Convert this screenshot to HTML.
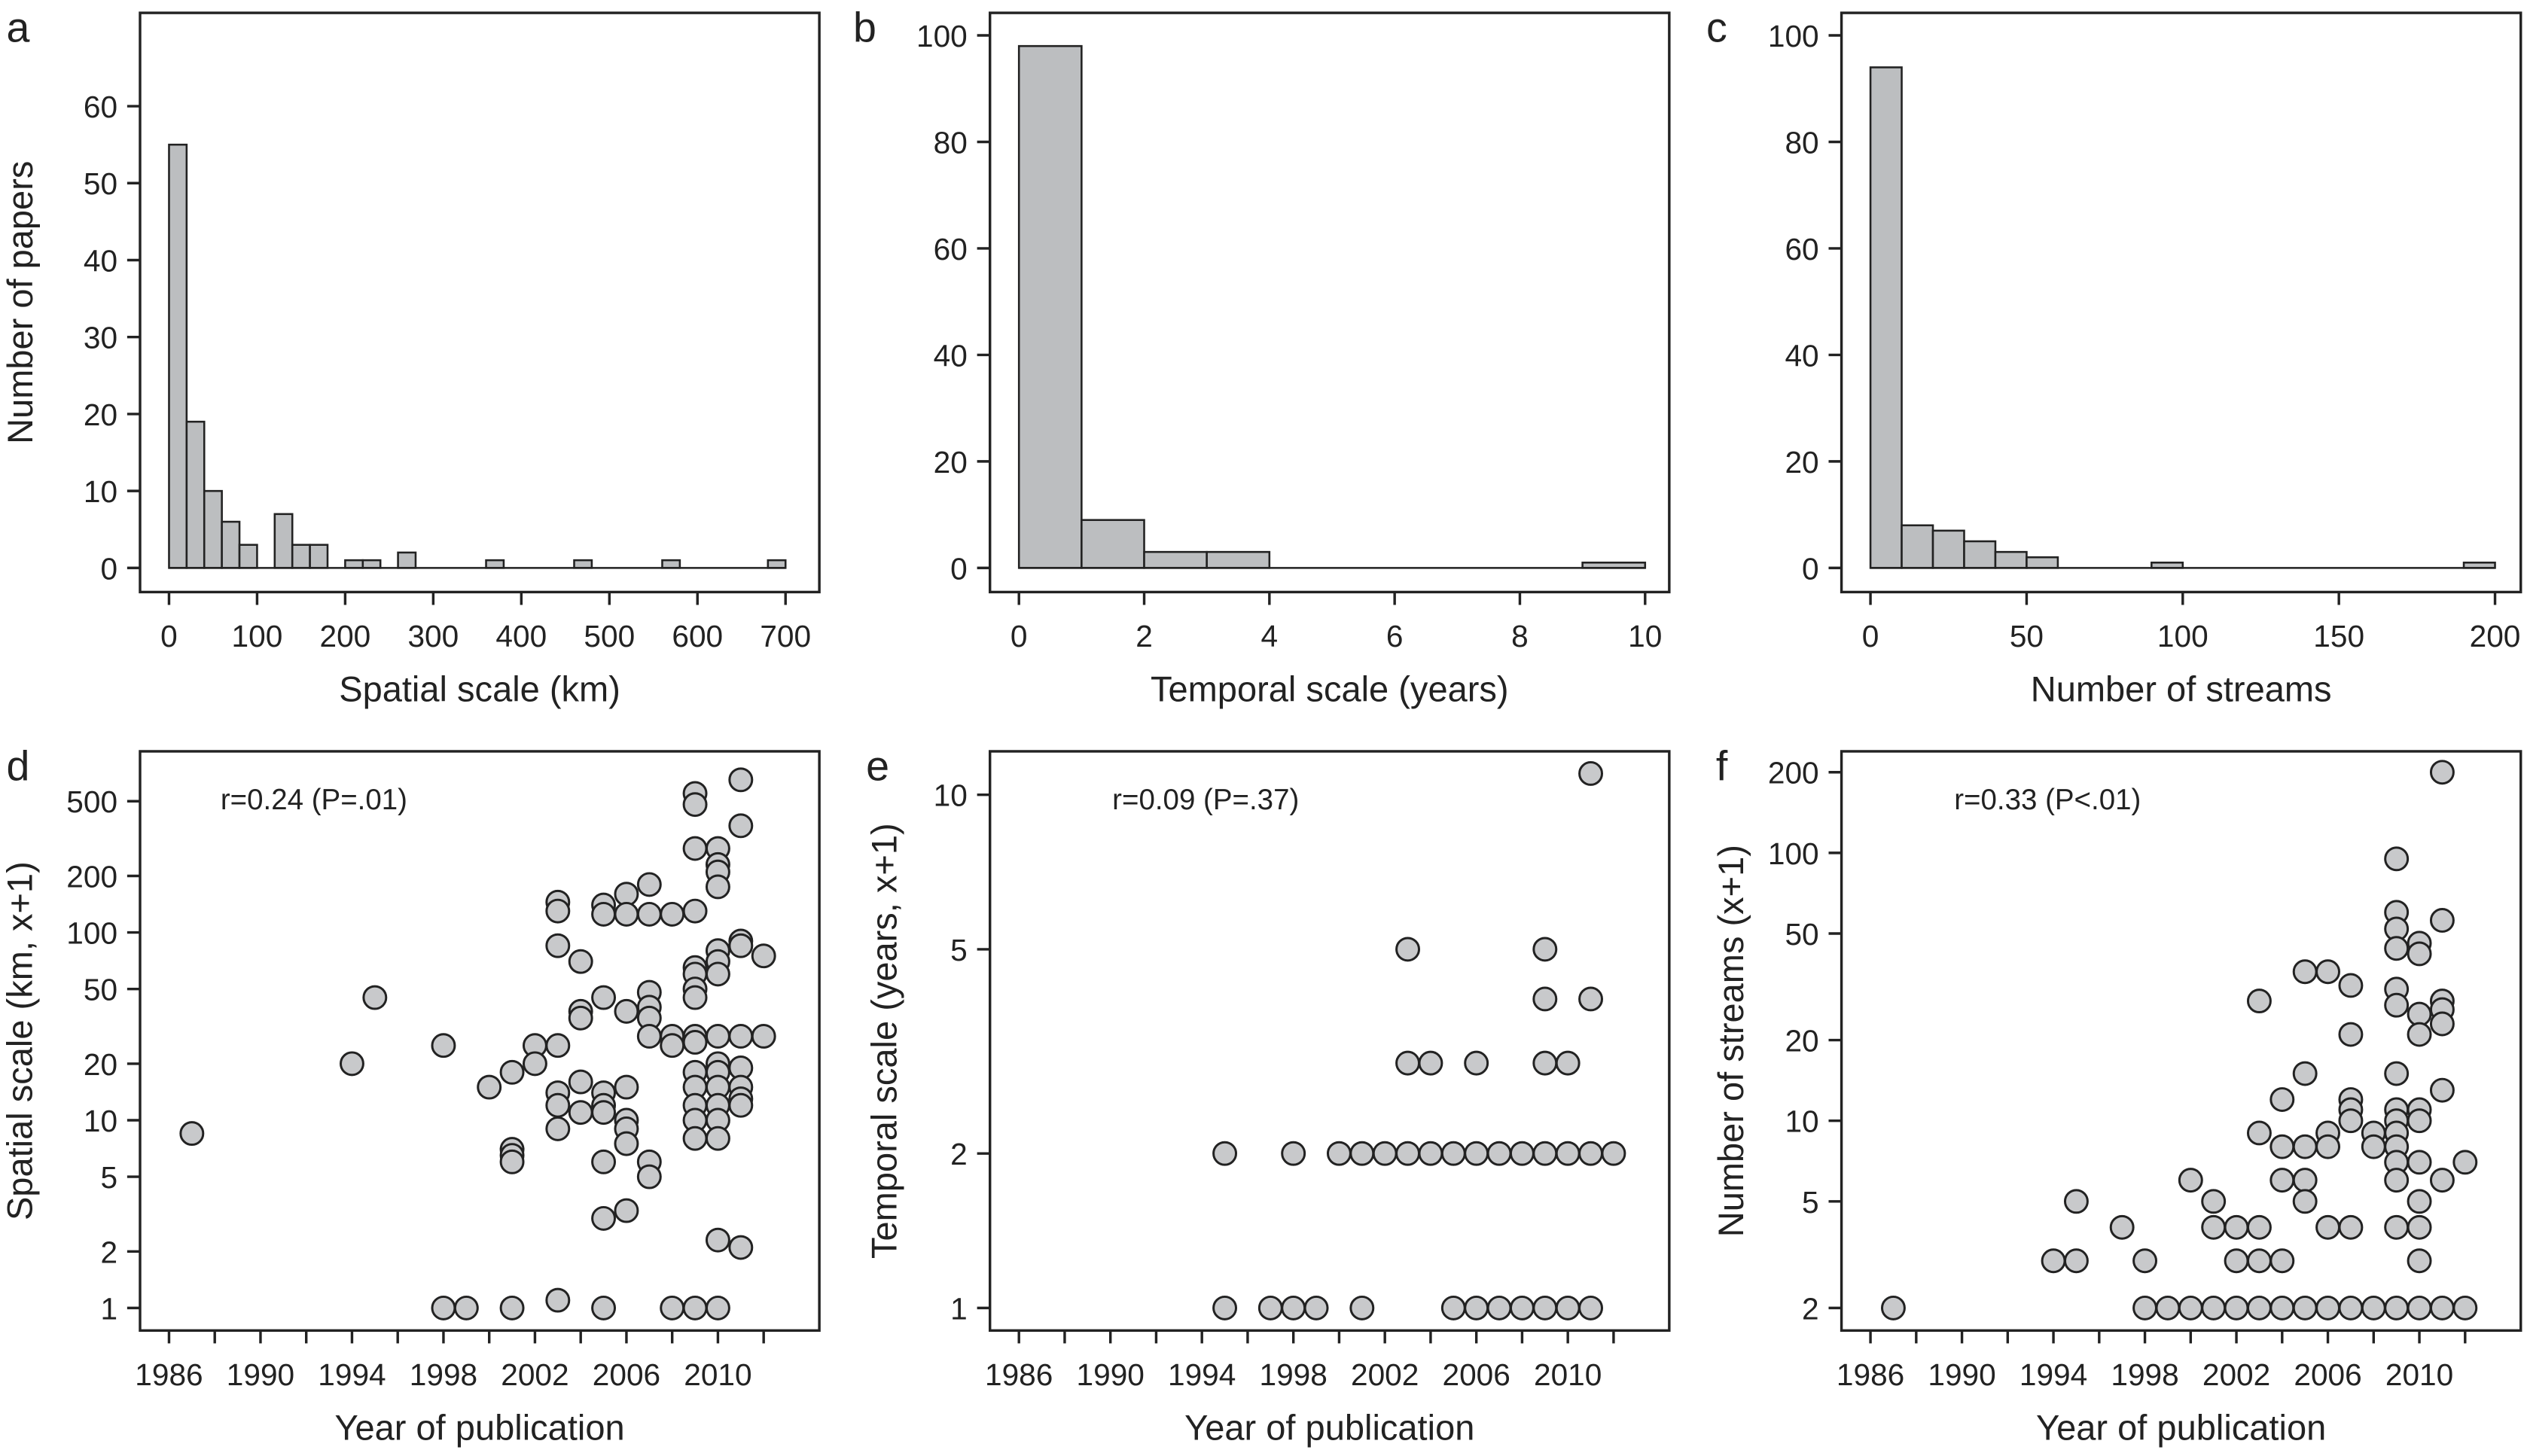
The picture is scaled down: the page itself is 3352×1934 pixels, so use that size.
<!DOCTYPE html>
<html><head><meta charset="utf-8"><style>
html,body{margin:0;padding:0;background:#fff;}
svg{display:block;font-family:"Liberation Sans",sans-serif;}
</style></head><body>
<svg id="fig" width="3352" height="1934" viewBox="0 0 1568 905" preserveAspectRatio="none" xmlns="http://www.w3.org/2000/svg"></svg>
<script>
// ---- data ----
const spatialBinStarts = [0,20,40,60,80,120,140,160,200,220,260,360,460,560,680];
const spatialCounts    = [55,19,10,6,3,7,3,3,1,1,2,1,1,1,1];
const spatialBinWidth = 20;
const temporalBinStarts = [0,1,2,3,9];
const temporalCounts    = [98,9,3,3,1];
const temporalBinWidth = 1;
const streamsBinStarts = [0,10,20,30,40,50,90,190];
const streamsCounts    = [94,8,7,5,3,2,1,1];
const streamsBinWidth = 10;

const dYears = [1987,1994,1995,1998,1998,1999,2000,2001,2001,2001,2001,2001,2002,2002,
 2003,2003,2003,2003,2003,2003,2003,2003,2004,2004,2004,2004,2004,
 2005,2005,2005,2005,2005,2005,2005,2005,2005,2006,2006,2006,2006,2006,2006,2006,2006,
 2007,2007,2007,2007,2007,2007,2007,2007,2008,2008,2008,2008,
 2009,2009,2009,2009,2009,2009,2009,2009,2009,2009,2009,2009,2009,2009,2009,2009,
 2010,2010,2010,2010,2010,2010,2010,2010,2010,2010,2010,2010,2010,2010,2010,2010,
 2011,2011,2011,2011,2011,2011,2011,2011,2011,2011,2012,2012];
const dValues = [8.5,20,45,25,1,1,15,18,7,6.5,6,1,25,20,
 145,130,85,25,14,12,9,1.1,70,38,35,16,11,
 140,125,45,14,12,11,6,3,1,160,125,38,15,10,9,7.5,3.3,
 180,125,48,40,35,28,6,5,125,28,25,1,
 550,480,280,130,65,60,50,45,28,26,18,15,12,10,8,1,
 280,230,210,175,80,70,60,28,20,18,15,12,10,8,2.3,1,
 650,370,90,85,28,19,15,13,12,2.1,75,28];

const eYears = [1995,1995,1997,1998,1998,1999,2000,2001,2001,2002,2003,2003,2003,2004,2004,2005,2005,
 2006,2006,2006,2007,2007,2008,2008,2009,2009,2009,2009,2009,2010,2010,2010,2011,2011,2011,2011,2012];
const eValues = [2,1,1,2,1,1,2,2,1,2,5,3,2,3,2,2,1,3,2,1,2,1,2,1,5,4,3,2,1,3,2,1,11,4,2,1,2];

const fYears = [1987,1994,1995,1995,1997,1998,1998,1999,2000,2000,2001,2001,2001,2002,2002,2002,
 2003,2003,2003,2003,2003,2004,2004,2004,2004,2004,2005,2005,2005,2005,2005,2005,
 2006,2006,2006,2006,2006,2007,2007,2007,2007,2007,2007,2007,2008,2008,2008,
 2009,2009,2009,2009,2009,2009,2009,2009,2009,2009,2009,2009,2009,2009,2009,
 2010,2010,2010,2010,2010,2010,2010,2010,2010,2010,2010,
 2011,2011,2011,2011,2011,2011,2011,2011,2012,2012];
const fValues = [2,3,5,3,4,3,2,2,6,2,5,4,2,4,3,2,
 28,9,4,3,2,12,8,6,3,2,36,15,8,6,5,2,
 36,9,8,4,2,32,21,12,11,10,4,2,9,8,2,
 95,60,52,44,31,27,15,11,10,9,8,7,6,4,2,
 46,42,25,21,11,10,7,5,4,3,2,
 200,56,28,26,23,13,6,2,7,2];

const yearTicks = [1986,1988,1990,1992,1994,1996,1998,2000,2002,2004,2006,2008,2010,2012];
const yearLabels = [1986,1990,1994,1998,2002,2006,2010];
const aXTicks=[0,100,200,300,400,500,600,700], aYTicks=[0,10,20,30,40,50,60];
const bXTicks=[0,2,4,6,8,10], bYTicks=[0,20,40,60,80,100];
const cXTicks=[0,50,100,150,200], cYTicks=[0,20,40,60,80,100];
const dYTicks=[1,2,5,10,20,50,100,200,500];
const eYTicks=[1,2,5,10];
const fYTicks=[2,5,10,20,50,100,200];

// ---- drawing ----
const svg=document.getElementById('fig');
const NS='http://www.w3.org/2000/svg';
function el(tag,attrs,parent){const e=document.createElementNS(NS,tag);for(const k in attrs)e.setAttribute(k,attrs[k]);(parent||svg).appendChild(e);return e;}
function txt(s,x,y,size,anchor,parent,rot){const t=el('text',{x:x,y:y,'font-size':size,'text-anchor':anchor||'middle',fill:'#222'},parent);if(rot)t.setAttribute('transform','rotate(-90 '+x+' '+y+')');t.textContent=s;return t;}

function panel(o){
  const g=el('g',{});
  
  
  const box=el('rect',{x:o.bx0,y:o.by0,width:o.bx1-o.bx0,height:o.by1-o.by0,fill:'none',stroke:'#222','stroke-width':1.6},g);
  
  
  o.xTicks.forEach(v=>{const x=o.sx(v);el('line',{x1:x,x2:x,y1:o.by1,y2:o.by1+8,stroke:'#222','stroke-width':1.6},g);});
  o.xLabels.forEach(v=>{const t=txt(String(v),o.sx(v),o.by1+34,19,'middle',g);});
  o.yTicks.forEach(v=>{const y=o.sy(v);el('line',{x1:o.bx0-8,x2:o.bx0,y1:y,y2:y,stroke:'#222','stroke-width':1.6},g);
    const t=txt(String(v),o.bx0-14,y+7,19,'end',g);});
  const xt=txt(o.xTitle,(o.bx0+o.bx1)/2,o.by1+68,22,'middle',g);
  
  const yt=txt(o.yTitle,o.ytx,(o.by0+o.by1)/2,22,'middle',g,true);
  
  const lt=txt(o.letter,o.lx,o.by0+18,26,'start',g);
  
  return g;
}
function lin(d0,d1,p0,p1){return v=>p0+(v-d0)*(p1-p0)/(d1-d0);}
function logs(d0,d1,p0,p1){return v=>p0+(Math.log10(v)-Math.log10(d0))*(p1-p0)/(Math.log10(d1)-Math.log10(d0));}

function hist(o,starts,counts,w){
  const g=panel(o);
  starts.forEach((s,i)=>{const x0=o.sx(s),x1=o.sx(s+w),y=o.sy(counts[i]);
    const r=el('rect',{x:x0,y:y,width:x1-x0,height:o.sy(0)-y,fill:'#bcbec0',stroke:'#222','stroke-width':1.2},g);
    });
  el('line',{x1:o.sx(starts[0]),x2:o.sx(starts[starts.length-1]+w),y1:o.sy(0),y2:o.sy(0),stroke:'#222','stroke-width':1.2},g);
}
function scatter(o,xs,ys,note,nx){
  const g=panel(o);
  xs.forEach((x,i)=>{const c=el('circle',{cx:o.sx(x),cy:o.sy(ys[i]),r:7,fill:'#c8c9cb',stroke:'#222','stroke-width':1.4},g);
    });
  const t=txt(note,nx,o.by0+36,18,'start',g);
  
}

const TOP={by0:8,by1:368}, BOT={by0:467,by1:827};
hist(Object.assign({name:'panel-a-spatial-histogram',bx0:87,bx1:509,sx:lin(0,700,105,488),sy:lin(0,60,353,66),
  xTicks:aXTicks,xLabels:aXTicks,yTicks:aYTicks,xTitle:'Spatial scale (km)',yTitle:'Number of papers',ytx:20,letter:'a',lx:4},TOP),spatialBinStarts,spatialCounts,spatialBinWidth);
hist(Object.assign({name:'panel-b-temporal-histogram',bx0:615,bx1:1037,sx:lin(0,10,633,1022),sy:lin(0,100,353,22),
  xTicks:bXTicks,xLabels:bXTicks,yTicks:bYTicks,xTitle:'Temporal scale (years)',yTitle:'',ytx:550,letter:'b',lx:530},TOP),temporalBinStarts,temporalCounts,temporalBinWidth);
hist(Object.assign({name:'panel-c-streams-histogram',bx0:1144,bx1:1566,sx:lin(0,200,1162,1550),sy:lin(0,100,353,22),
  xTicks:cXTicks,xLabels:cXTicks,yTicks:cYTicks,xTitle:'Number of streams',yTitle:'',ytx:1077,letter:'c',lx:1060},TOP),streamsBinStarts,streamsCounts,streamsBinWidth);

scatter(Object.assign({name:'panel-d-spatial-vs-year',bx0:87,bx1:509,sx:lin(1986,2010,105,446),sy:logs(1,500,813,498),
  xTicks:yearTicks,xLabels:yearLabels,yTicks:dYTicks,xTitle:'Year of publication',yTitle:'Spatial scale (km, x+1)',ytx:20,letter:'d',lx:4},BOT),dYears,dValues,'r=0.24 (P=.01)',137);
scatter(Object.assign({name:'panel-e-temporal-vs-year',bx0:615,bx1:1037,sx:lin(1986,2010,633,974),sy:logs(1,10,813,494),
  xTicks:yearTicks,xLabels:yearLabels,yTicks:eYTicks,xTitle:'Year of publication',yTitle:'Temporal scale (years, x+1)',ytx:557,letter:'e',lx:538},BOT),eYears,eValues,'r=0.09 (P=.37)',691);
scatter(Object.assign({name:'panel-f-streams-vs-year',bx0:1144,bx1:1566,sx:lin(1986,2010,1162,1503),sy:logs(2,200,813,480),
  xTicks:yearTicks,xLabels:yearLabels,yTicks:fYTicks,xTitle:'Year of publication',yTitle:'Number of streams (x+1)',ytx:1083,letter:'f',lx:1066},BOT),fYears,fValues,'r=0.33 (P<.01)',1214);
</script>
</body></html>
